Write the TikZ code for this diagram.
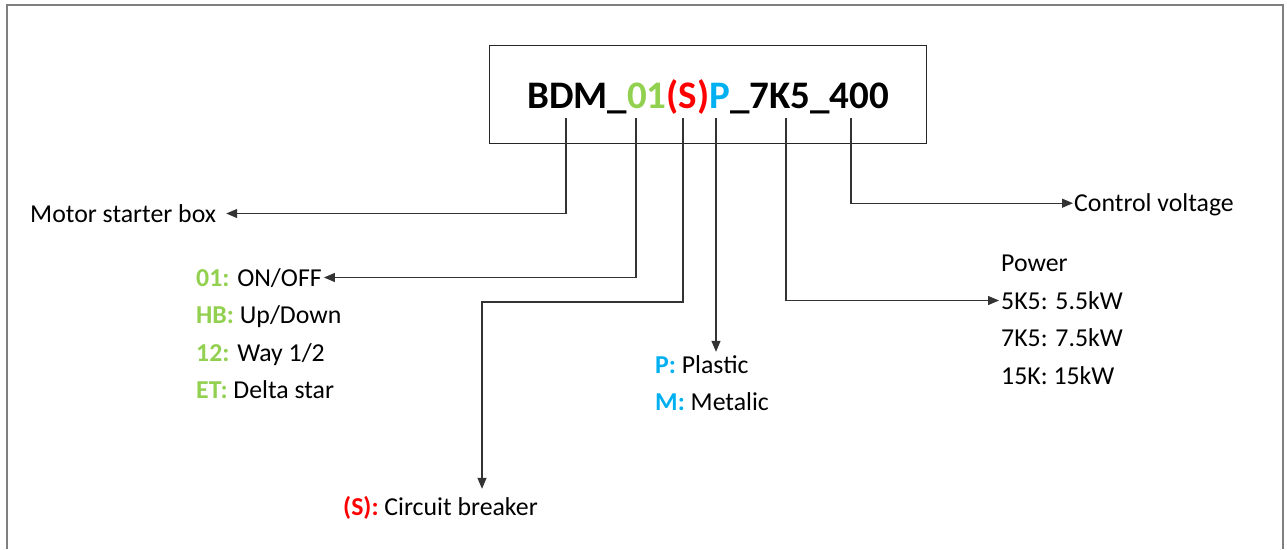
\documentclass[tikz,border=0pt]{standalone}
\usepackage{fontspec}
\setmainfont{Carlito}
\usetikzlibrary{arrows.meta}
\definecolor{xgreen}{HTML}{92D050}
\definecolor{xred}{HTML}{FF0000}
\definecolor{xblue}{HTML}{00B0F0}
\definecolor{xline}{HTML}{333333}
\definecolor{xframe}{HTML}{7F7F7F}
\newcommand\gtxt[1]{{\color{xgreen}\bfseries #1}}
\newcommand\rtxt[1]{{\color{xred}\bfseries #1}}
\newcommand\btxt[1]{{\color{xblue}\bfseries #1}}
\begin{document}
\begin{tikzpicture}[x=1pt,y=-1pt,
  lbl/.style={anchor=base west, inner sep=0pt, text height=17pt, text depth=0pt,
              font=\fontsize{25.8}{30}\selectfont},
  arr/.style={draw=xline, line width=1.2pt, -{Triangle[length=11pt,width=9pt]}}]
\useasboundingbox (0,0) rectangle (1287,549);
\draw[xframe, line width=2pt] (7,549) -- (7,5) -- (1283,5) -- (1283,549);
\node[draw=black!85, line width=1.2pt, minimum width=437pt, minimum height=98pt,
      anchor=north west, inner sep=0pt] (box) at (489,45) {};
\node[anchor=base west, inner sep=0pt, font=\fontsize{39}{42}\selectfont\bfseries] (title)
  at (527,108) {BDM\_{\color{xgreen}01}{\color{xred}(S)}{\color{xblue}P}\_7K5\_400};
\coordinate (cBDM) at (566,118);
\coordinate (c01) at (636,118);
\coordinate (cS) at (683,118);
\coordinate (cP) at (716,118);
\coordinate (c7K5) at (786,118);
\coordinate (c400) at (851,118);
\node[lbl] (motor) at (30,222) {Motor starter box};
\node[lbl] (on) at (196,286) {\gtxt{01:} ON/OFF};
\node[lbl] (hb) at (196,323.5) {\gtxt{HB:} Up/Down};
\node[lbl] (way) at (196,361) {\gtxt{12:} Way 1/2};
\node[lbl] (et) at (196,398.5) {\gtxt{ET:} Delta star};
\node[lbl] (cb) at (343,515) {\rtxt{(S):} Circuit breaker};
\node[lbl] (plastic) at (655,373) {\btxt{P:} Plastic};
\node[lbl] (metal) at (655,410.5) {\btxt{M:} Metalic};
\node[lbl] (ctrl) at (1074,211.7) {Control voltage};
\node[lbl] (power) at (1001,271) {Power};
\node[lbl] (k5) at (1001,309) {5K5: 5.5kW};
\node[lbl] (k7) at (1001,346.5) {7K5: 7.5kW};
\node[lbl] (k15) at (1001,384) {15K: 15kW};
\draw[arr] (cBDM) |- ([xshift=10pt]motor.east);
\draw[arr] (c01) |- ([xshift=2pt]on.east);
\coordinate (bend) at (482,302);
\draw[arr, shorten >=9pt] (cS) |- (bend) -- (bend |- cb.north);
\draw[arr, shorten >=4pt] (cP) -- (cP |- plastic.north);
\draw[arr] (c7K5) |- ([xshift=-2pt]k5.west);
\draw[arr] (c400) |- ([xshift=-1pt]ctrl.west);
\end{tikzpicture}
\end{document}
